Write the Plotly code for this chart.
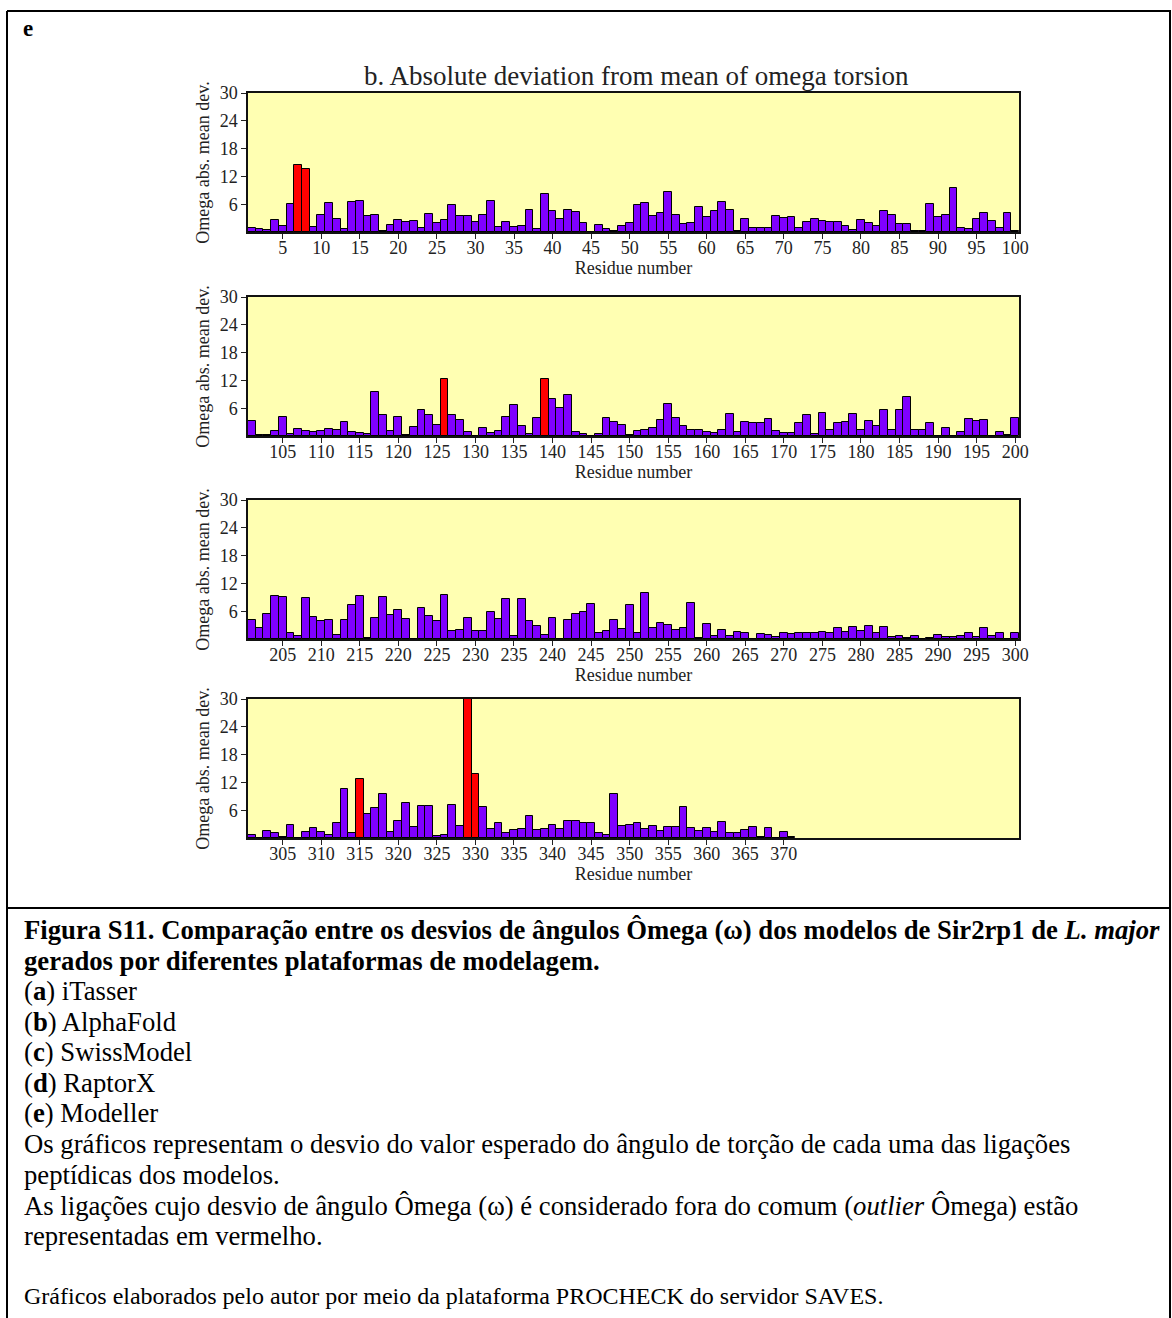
import plotly.graph_objects as go

# ---------------- data ----------------
dev_1_100 = [0.8, 0.65, 0.4, 2.5, 1.4, 6.0, 14.4, 13.5, 1.0, 3.7,
             6.2, 2.7, 0.6, 6.4, 6.7, 3.4, 3.6, 0.3, 1.5, 2.5,
             2.2, 2.4, 0.8, 3.9, 1.9, 2.5, 5.8, 3.5, 3.5, 2.2,
             3.6, 6.7, 1.1, 2.2, 1.1, 1.3, 4.8, 0.6, 8.3, 4.5,
             2.7, 4.8, 4.4, 2.0, 0.1, 1.6, 0.6, 0.3, 1.4, 1.9,
             5.8, 6.3, 3.4, 4.1, 8.6, 3.6, 1.7, 2.0, 5.5, 3.2,
             4.5, 6.5, 4.8, 0.3, 2.7, 0.8, 0.8, 0.8, 3.4, 3.0,
             3.3, 0.9, 2.2, 2.8, 2.3, 2.1, 2.1, 1.3, 0.5, 2.5,
             1.9, 1.4, 4.6, 3.6, 1.7, 1.7, 0.2, 0.2, 6.1, 3.2,
             3.7, 9.4, 0.9, 0.65, 2.9, 4.2, 2.3, 0.8, 4.2, 0.2]
dev_101_200 = [3.2, 0.3, 0.15, 1.1, 4.0, 0.5, 1.6, 1.1, 0.9, 1.0,
               1.6, 1.4, 3.1, 0.9, 0.65, 0.35, 9.5, 4.6, 1.15, 4.0,
               0.15, 2.0, 5.7, 4.45, 2.3, 12.2, 4.6, 3.4, 0.8, 0.1,
               1.8, 0.6, 1.15, 4.0, 6.7, 2.2, 0.35, 3.9, 12.35, 8.0,
               6.0, 8.9, 0.8, 0.5, 0.0, 0.5, 3.9, 3.0, 2.3, 0.15,
               1.1, 1.2, 1.7, 3.4, 6.9, 3.9, 2.2, 1.4, 1.2, 0.9,
               0.6, 1.4, 4.7, 0.9, 3.1, 2.8, 2.9, 3.7, 1.1, 0.6,
               0.6, 2.8, 4.6, 0.35, 5.0, 1.4, 2.9, 3.1, 4.7, 1.3,
               3.2, 2.2, 5.6, 1.4, 5.7, 8.5, 1.4, 1.3, 2.9, 0.0,
               1.7, 0.0, 0.8, 3.7, 3.2, 3.4, 0.1, 0.8, 0.15, 3.9]
dev_201_300 = [4.2, 2.4, 5.4, 9.2, 9.0, 1.4, 0.65, 8.9, 4.7, 3.8,
               4.2, 0.9, 4.2, 7.3, 9.2, 0.15, 4.5, 9.0, 5.2, 6.2,
               4.4, 0.1, 6.7, 5.0, 3.95, 9.6, 1.65, 2.0, 4.5, 1.8,
               1.65, 5.9, 4.4, 8.6, 0.7, 8.6, 3.8, 2.8, 0.9, 4.6,
               0.0, 4.2, 5.4, 5.9, 7.6, 1.4, 1.8, 4.2, 2.1, 7.25,
               1.2, 10.0, 2.3, 3.5, 3.0, 1.9, 2.4, 7.7, 0.15, 3.2,
               0.65, 1.9, 0.65, 1.5, 1.4, 0.0, 1.1, 0.9, 0.5, 1.4,
               1.1, 1.2, 1.4, 1.2, 1.5, 1.2, 2.4, 1.5, 2.5, 1.65,
               2.8, 1.2, 2.5, 0.5, 0.65, 0.15, 0.65, 0.1, 0.15, 0.9,
               0.35, 0.5, 0.65, 1.4, 0.5, 2.4, 0.65, 1.2, 0.0, 1.4]
dev_301_371 = [0.7, 0.0, 1.6, 1.15, 0.2, 2.7, 0.0, 1.4, 2.15, 1.4,
               0.7, 3.2, 10.6, 1.1, 12.8, 5.2, 6.4, 9.5, 1.4, 3.6,
               7.5, 2.3, 6.8, 6.8, 0.5, 0.7, 7.1, 2.6, 30.0, 13.8,
               6.7, 1.9, 3.2, 1.1, 1.7, 1.9, 4.8, 1.7, 1.9, 2.7,
               2.0, 3.7, 3.6, 3.2, 3.15, 1.1, 0.7, 9.6, 2.5, 2.8,
               3.2, 2.0, 2.6, 1.6, 2.3, 2.4, 6.7, 2.15, 1.6, 2.15,
               1.4, 3.4, 1.15, 1.15, 1.7, 2.3, 0.2, 2.15, 0.0, 1.3,
               0.2]
panel_starts = [1, 101, 201, 301]
panel_values = [dev_1_100, dev_101_200, dev_201_300, dev_301_371]
outlier_residues = [7, 8, 126, 139, 315, 329, 330]
y_ticks = [6, 12, 18, 24, 30]

# ---------------- style ----------------
W, H = 1172, 1318
FONT = "Liberation Serif"
BAR_COLOR = "#7F00FF"
OUTLIER_COLOR = "#FF0000"
BG = "#FFFFB2"
TXT = "#222222"
AX_FS = 18

def px_x(x):
    return x / W

def px_y(y):
    return 1 - y / H

panel_px = [(93, 232), (297, 436), (500, 639), (699, 838)]
x_dom = [px_x(248), px_x(1019)]

fig = go.Figure()
layout_axes = {}
shapes = []
for i, (start, vals) in enumerate(zip(panel_starts, panel_values)):
    n = i + 1
    res = list(range(start, start + len(vals)))
    colors = [OUTLIER_COLOR if r in outlier_residues else BAR_COLOR for r in res]
    xa = "x" if n == 1 else f"x{n}"
    ya = "y" if n == 1 else f"y{n}"
    fig.add_trace(go.Bar(
        x=res, y=vals, xaxis=xa, yaxis=ya, width=1.0,
        marker=dict(color=colors, line=dict(color="black", width=1)),
        showlegend=False, hoverinfo="x+y"))
    last = start + len(vals) - 1
    xt = [v for v in range(start, start + 100) if v % 5 == 0 and v <= last]
    top, bot = panel_px[i]
    xkey = "xaxis" if n == 1 else f"xaxis{n}"
    ykey = "yaxis" if n == 1 else f"yaxis{n}"
    layout_axes[xkey] = dict(
        domain=x_dom, anchor=ya, range=[start - 0.5, start + 99.5],
        tickvals=xt, ticktext=[str(v) for v in xt],
        ticks="outside", ticklen=5, tickcolor=TXT, tickwidth=1,
        ticklabelstandoff=-6,
        showgrid=False, zeroline=False, automargin=False,
        showline=True, mirror=True, linecolor="#111111", linewidth=1.5,
        tickfont=dict(family=FONT, size=AX_FS, color=TXT),
        title=dict(text="Residue number", standoff=3,
                   font=dict(family=FONT, size=AX_FS, color=TXT)))
    layout_axes[ykey] = dict(
        domain=[px_y(bot), px_y(top)], anchor=xa, range=[0, 30],
        tickvals=y_ticks, ticktext=[str(v) for v in y_ticks],
        ticks="outside", ticklen=5, tickcolor=TXT, tickwidth=1,
        showgrid=False, zeroline=False, automargin=False,
        showline=True, mirror=True, linecolor="#111111", linewidth=1.5,
        tickfont=dict(family=FONT, size=AX_FS, color=TXT),
        title=dict(text="Omega abs. mean dev.", standoff=5,
                   font=dict(family=FONT, size=AX_FS, color=TXT)))
    shapes.append(dict(type="rect", xref=f"{xa} domain", yref=f"{ya} domain",
                       x0=0, x1=1, y0=0, y1=1, fillcolor=BG, line=dict(width=0),
                       layer="below"))

fig.update_layout(**layout_axes)

# outer borders of the figure box
line_style = dict(color="black", width=2)
shapes += [
    dict(type="line", xref="paper", yref="paper", x0=px_x(7), x1=px_x(1171), y0=px_y(11), y1=px_y(11), line=line_style),
    dict(type="line", xref="paper", yref="paper", x0=px_x(7), x1=px_x(7), y0=px_y(11), y1=0, line=line_style),
    dict(type="line", xref="paper", yref="paper", x0=px_x(1170), x1=px_x(1170), y0=px_y(11), y1=0, line=line_style),
    dict(type="line", xref="paper", yref="paper", x0=px_x(7), x1=px_x(1171), y0=px_y(908), y1=px_y(908), line=line_style),
]

annotations = []
def note(text, x, y, size, xanchor="left", color="black"):
    annotations.append(dict(text=text, x=px_x(x), y=px_y(y), xref="paper", yref="paper",
                            xanchor=xanchor, yanchor="middle", showarrow=False,
                            font=dict(family=FONT, size=size, color=color)))

note("<b>e</b>", 21, 29, 23)
note("b. Absolute deviation from mean of omega torsion", 636, 76, 27, xanchor="center", color=TXT)

CAP_FS = 26.7
caption = [
    ("<b>Figura S11. Comparação entre os desvios de ângulos Ômega (ω) dos modelos de Sir2rp1 de <i>L. major</i></b>", 930, CAP_FS),
    ("<b>gerados por diferentes plataformas de modelagem.</b>", 961, CAP_FS),
    ("(<b>a</b>) iTasser", 991, CAP_FS),
    ("(<b>b</b>) AlphaFold", 1022, CAP_FS),
    ("(<b>c</b>) SwissModel", 1052, CAP_FS),
    ("(<b>d</b>) RaptorX", 1083, CAP_FS),
    ("(<b>e</b>) Modeller", 1113, CAP_FS),
    ("Os gráficos representam o desvio do valor esperado do ângulo de torção de cada uma das ligações", 1144, CAP_FS),
    ("peptídicas dos modelos.", 1175, CAP_FS),
    ("As ligações cujo desvio de ângulo Ômega (ω) é considerado fora do comum (<i>outlier</i> Ômega) estão", 1206, CAP_FS),
    ("representadas em vermelho.", 1236, CAP_FS),
    ("Gráficos elaborados pelo autor por meio da plataforma PROCHECK do servidor SAVES.", 1296, 24),
]
for text, y, size in caption:
    note(text, 22, y, size)

fig.update_layout(
    width=W, height=H, margin=dict(l=0, r=0, t=0, b=0, autoexpand=False),
    paper_bgcolor="white", plot_bgcolor=BG,
    bargap=0, shapes=shapes, annotations=annotations,
    font=dict(family=FONT, color=TXT))

fig.write_html("out.html", config={"displayModeBar": False},
               post_script="document.body.style.margin='0px';")
